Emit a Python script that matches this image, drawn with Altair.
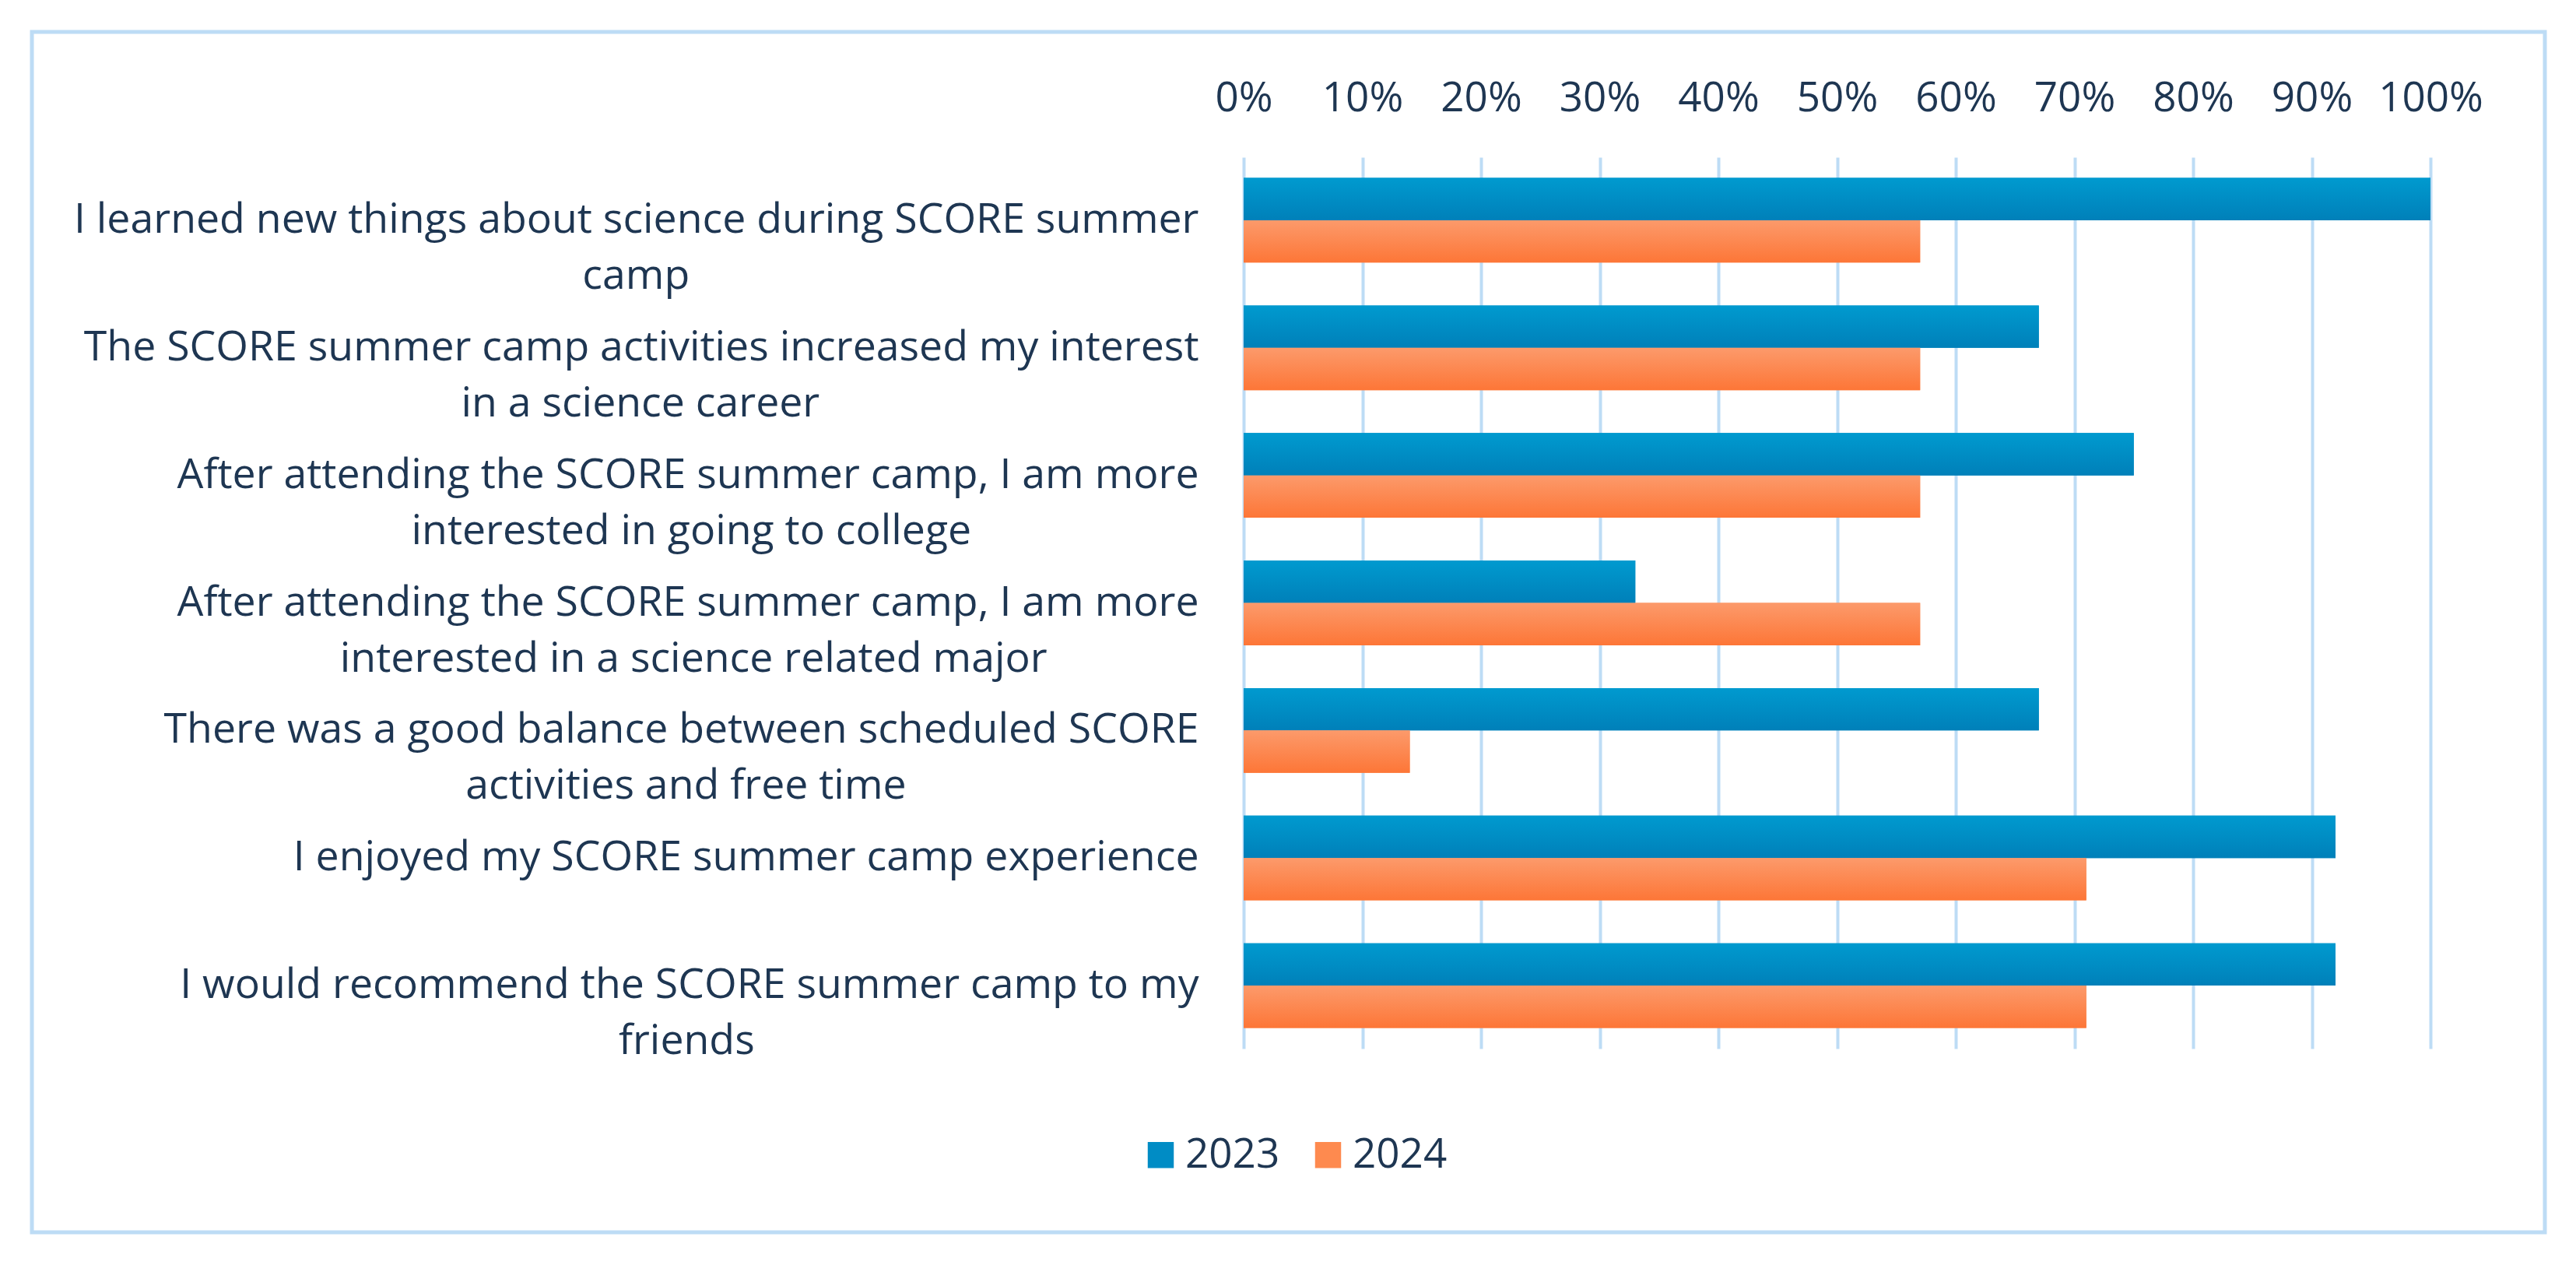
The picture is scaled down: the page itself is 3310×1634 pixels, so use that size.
import altair as alt
import pandas as pd

# ---- data ----
questions = [
    ["I learned new things about science during SCORE summer", "camp"],
    ["The SCORE summer camp activities increased my interest", "in a science career"],
    ["After attending the SCORE summer camp, I am more", "interested in going to college"],
    ["After attending the SCORE summer camp, I am more", "interested in a science related major"],
    ["There was a good balance between scheduled SCORE", "activities and free time"],
    ["I enjoyed my SCORE summer camp experience"],
    ["I would recommend the SCORE summer camp to my", "friends"],
]
years = ["2023", "2024"]
values_2023 = [100, 67, 75, 33, 67, 92, 92]
values_2024 = [57, 57, 57, 57, 14, 71, 71]
tick_values = [0, 10, 20, 30, 40, 50, 60, 70, 80, 90, 100]

# ---- approximate Open Sans advance widths (units / 2048), used to centre wrapped lines ----
W = {" ": 532, "a": 1139, "b": 1255, "c": 975, "d": 1255, "e": 1149, "f": 694, "g": 1122,
     "h": 1257, "i": 518, "j": 518, "k": 1075, "l": 518, "m": 1905, "n": 1257, "o": 1237,
     "p": 1255, "q": 1255, "r": 836, "s": 977, "t": 723, "u": 1257, "v": 1026, "w": 1593,
     "x": 1073, "y": 1028, "z": 954, "A": 1296, "C": 1292, "E": 1108, "I": 559, "O": 1599,
     "R": 1231, "S": 1092, "T": 1139, ",": 497}
NBSP = "\u00a0"
ZW = "\u200b"  # zero-width, keeps the padding from being trimmed


def tw(s):
    return sum(W.get(c, 1100) for c in s)


def make_label(lines):
    wmax = max(tw(l) for l in lines)
    out = []
    for l in lines:
        pad = int(round((wmax - tw(l)) / 2 / W[" "]))
        out.append(l + (NBSP * pad + ZW if pad > 0 else ""))
    return "|".join(out)


labels = [make_label(q) for q in questions]

rows = []
for lab, v in zip(labels, values_2023):
    rows.append({"question": lab, "year": "2023", "value": v})
for lab, v in zip(labels, values_2024):
    rows.append({"question": lab, "year": "2024", "value": v})
df = pd.DataFrame(rows)

FONT = "Open Sans"
TXT = "#1E3652"
GRID = "#BDDCF5"
BLUE = "#008CC5"
ORANGE = "#FE8A4F"

grad_blue = alt.Gradient(gradient="linear", x1=0, x2=0, y1=0, y2=1,
                         stops=[alt.GradientStop(color="#009ACF", offset=0),
                                alt.GradientStop(color="#0080B9", offset=1)])
grad_orange = alt.Gradient(gradient="linear", x1=0, x2=0, y1=0, y2=1,
                           stops=[alt.GradientStop(color="#FC9A6B", offset=0),
                                  alt.GradientStop(color="#FD7637", offset=1)])

x_enc = alt.X("value:Q", scale=alt.Scale(domain=[0, 100], nice=False),
              axis=alt.Axis(orient="top", title=None, domain=False, ticks=False, tickSize=0,
                            grid=True, gridColor=GRID, gridWidth=4, values=tick_values,
                            labelExpr="datum.value + '%'", labelPadding=60,
                            labelBaseline="alphabetic", labelFlush=False, labelOverlap=False,
                            labelFont=FONT, labelFontSize=53, labelColor=TXT))
y_enc = alt.Y("question:N", sort=labels,
              scale=alt.Scale(paddingInner=0.336, paddingOuter=0.162),
              axis=alt.Axis(title=None, domain=False, ticks=False, tickSize=0, grid=False,
                            labelPadding=58, labelLimit=0, labelExpr="split(datum.label, '|')",
                            labelLineHeight=72, labelFont=FONT, labelFontSize=53.6,
                            labelColor=TXT, labelAlign="right", labelBaseline="middle"))
yo_enc = alt.YOffset("year:N", sort=years)

base = alt.Chart(df).encode(x=x_enc, y=y_enc, yOffset=yo_enc)

solid = base.mark_bar().encode(
    color=alt.Color("year:N", sort=years,
                    scale=alt.Scale(domain=years, range=[BLUE, ORANGE]),
                    legend=alt.Legend(orient="none", legendX=-133, legendY=1255,
                                      direction="horizontal", title=None, symbolType="square",
                                      symbolSize=1120, symbolStrokeWidth=0, labelOffset=5,
                                      columnPadding=35, padding=0, labelFont=FONT,
                                      labelFontSize=53, labelColor=TXT))
)
over_2023 = base.transform_filter(alt.datum.year == "2023").mark_bar(fill=grad_blue)
over_2024 = base.transform_filter(alt.datum.year == "2024").mark_bar(fill=grad_orange)

frame = alt.Chart(pd.DataFrame({"f": [0]})).mark_rect(
    fillOpacity=0, stroke=GRID, strokeWidth=5
).encode(x=alt.value(-1557), x2=alt.value(1672), y=alt.value(-161), y2=alt.value(1381))

chart = alt.layer(frame, solid, over_2023, over_2024).properties(
    width=1525, height=1145,
    autosize=alt.AutoSizeParams(type="none"),
    padding={"left": 1590, "top": 194, "right": 175, "bottom": 260},
    background="white",
).configure_view(stroke=None)

chart.save("out.html", embed_options={"renderer": "svg", "actions": False})
